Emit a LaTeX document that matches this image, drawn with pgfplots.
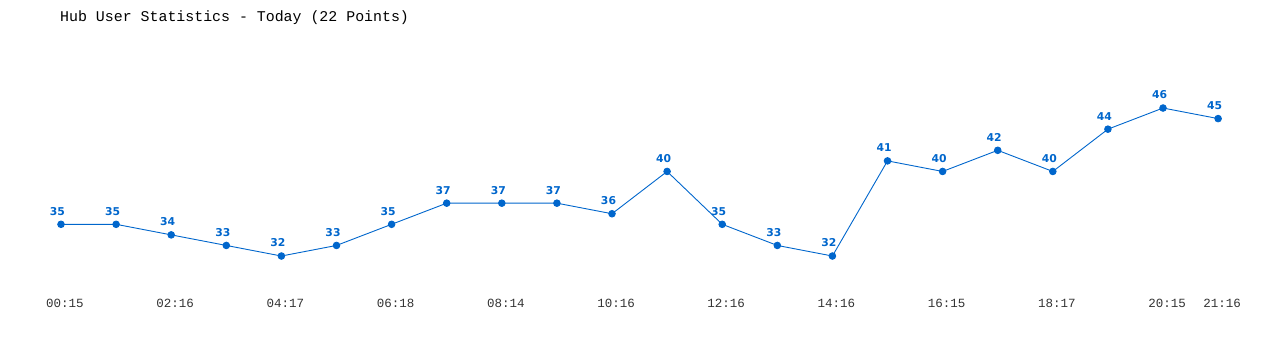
\documentclass[border=0pt]{standalone}
\usepackage{pgfplots}
\pgfplotsset{compat=1.18}
\usepackage{fontspec}
\setmainfont{Liberation Mono}
\newfontfamily\valfont{DejaVu Sans}
\definecolor{lineblue}{HTML}{0066CC}
\definecolor{ticktxt}{HTML}{333333}
\begin{document}
\begin{tikzpicture}
\useasboundingbox (0,0) rectangle (1280pt,350pt);
\begin{axis}[
  at={(0,0)}, anchor=south west,
  scale only axis, width=1280pt, height=350pt,
  xmin=-1.107, xmax=22.123, ymin=23.11, ymax=56.22,
  axis line style={draw=none},
  tick style={draw=none},
  ytick=\empty,
  xtick={0,2,4,6,8,10,12,14,16,18,20,21},
  xticklabels={00:15,02:16,04:17,06:18,08:14,10:16,12:16,14:16,16:15,18:17,20:15,21:16},
  xticklabel style={anchor=center, yshift=47pt, xshift=4pt, font=\fontsize{12.5}{14}\selectfont, text=ticktxt},
  clip=false,
]
\addplot[color=lineblue, line width=0.9pt, mark=*, mark size=3.3pt,
  mark options={fill=lineblue, draw=lineblue},
  nodes near coords,
  every node near coord/.append style={anchor=center, yshift=13pt, xshift=-3.5pt,
    font=\valfont\bfseries\fontsize{10.8}{12}\selectfont, text=lineblue,
    /pgf/number format/assume math mode=true},
] coordinates {
(0,35) (1,35) (2,34) (3,33) (4,32) (5,33) (6,35) (7,37) (8,37) (9,37) (10,36)
(11,40) (12,35) (13,33) (14,32) (15,41) (16,40) (17,42) (18,40) (19,44) (20,46) (21,45)
};
\node[anchor=west, inner sep=0pt, font=\fontsize{14.9}{16}\selectfont, text=black]
  at (rel axis cs:0.0469,0.9486) {Hub User Statistics - Today (22 Points)};
\end{axis}
\end{tikzpicture}
\end{document}
